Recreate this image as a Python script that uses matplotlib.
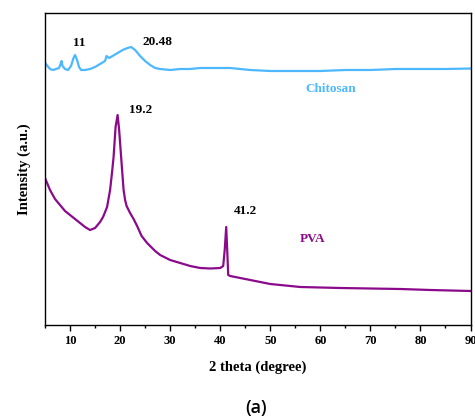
import numpy as np
import matplotlib
matplotlib.use('Agg')
import matplotlib.pyplot as plt
from matplotlib.ticker import MultipleLocator

# XRD patterns (intensity in arbitrary units)
chitosan_2theta = [5.0, 5.5, 6.0, 6.6, 7.2, 7.8, 8.1, 8.3, 8.5, 9.0, 9.6, 10.2, 10.7, 11.0, 11.4,
                   11.8, 12.2, 13.0, 14.0, 15.0, 16.0, 17.0, 17.3, 17.8, 18.5, 19.5, 20.5, 21.5,
                   22.2, 23.0, 24.0, 25.0, 26.0, 27.0, 28.0, 30.0, 32.0, 34.0, 36.0, 38.0, 40.0,
                   42.0, 44.0, 46.0, 50.0, 55.0, 60.0, 65.0, 70.0, 75.0, 80.0, 85.0, 90.0]
chitosan_int = [262, 259, 256, 255, 256, 257, 261, 264, 259, 256, 255, 259, 267, 270, 265,
                258, 255, 255, 256, 258, 261, 264, 269, 267, 269, 272, 275, 277,
                278, 275, 269, 264, 260, 257, 256, 255, 256, 256, 257, 257, 257,
                257, 256, 255, 254, 254, 254, 255, 255, 256, 256, 256, 256.5]

pva_2theta = [5.0, 6.0, 7.0, 8.0, 9.0, 10.0, 11.0, 12.0, 13.0, 14.0, 15.0, 16.0, 16.6, 17.4,
              18.0, 18.4, 18.7, 19.1, 19.5, 19.8, 20.0, 20.4, 20.7, 21.0, 21.3, 22.0, 22.7,
              23.4, 24.3, 25.4, 27.0, 28.0, 30.0, 32.0, 34.0, 36.0, 38.0, 40.0, 40.6, 40.9,
              41.2, 41.4, 41.6, 42.0, 44.0, 46.0, 48.0, 50.0, 52.0, 56.0, 60.0, 64.0, 70.0,
              76.0, 82.0, 90.0]
pva_int = [147, 135, 126, 120, 114, 110, 106, 102, 98, 95, 97, 103, 108, 118,
           135, 153, 168, 198, 210, 196, 182, 155, 135, 125, 119, 112, 106,
           99, 89, 82, 74, 70, 65, 62, 59, 57, 56.5, 57, 59, 75,
           98, 75, 50, 49, 47, 45, 43, 41, 40, 38, 37.5, 37, 36.5,
           36, 35, 34]

peak_labels = ['11', '20.48', '19.2', '41.2']
peak_x = [11.8, 27.4, 24.2, 45.1]
peak_y = [282, 283, 215, 114]

chitosan_color = '#4db8ff'
pva_color = '#8b0a8b'

plt.rcParams['font.family'] = ['Liberation Serif', 'DejaVu Serif']
plt.rcParams['font.weight'] = 'bold'

fig = plt.figure(figsize=(4.75, 4.2), dpi=100)
ax = fig.add_axes([45 / 475, 95 / 420, 425.5 / 475, 312.5 / 420])

ax.plot(chitosan_2theta, chitosan_int, color=chitosan_color, lw=1.6)
ax.plot(pva_2theta, pva_int, color=pva_color, lw=1.6)

for lab, px, py in zip(peak_labels, peak_x, peak_y):
    ax.text(px, py, lab, ha='center', va='center', fontsize=9.5, fontweight='bold')

ax.text(62.1, 236, 'Chitosan', color=chitosan_color, ha='center', va='center',
        fontsize=9.5, fontweight='bold')
ax.text(58.5, 86, 'PVA', color=pva_color, ha='center', va='center',
        fontsize=9.5, fontweight='bold')

ax.set_xlim(5, 90)
ax.set_ylim(0, 312.5)
ax.xaxis.set_major_locator(MultipleLocator(10))
ax.xaxis.set_minor_locator(MultipleLocator(5))
ax.set_yticks([])
ax.tick_params(axis='x', which='major', direction='out', length=4, width=1, labelsize=9, pad=3)
ax.tick_params(axis='x', which='minor', direction='out', length=2.5, width=1)
for lbl in ax.get_xticklabels():
    lbl.set_fontweight('bold')
for s in ax.spines.values():
    s.set_linewidth(1.0)

ax.set_xlabel('2 theta (degree)', fontsize=10.5, fontweight='bold', labelpad=10)
ax.set_ylabel('Intensity (a.u.)', fontsize=10.5, fontweight='bold', labelpad=10)

fig.text(256 / 475, 1 - 408 / 420, '(a)', ha='center', va='center', fontsize=13,
         fontfamily='Open Sans', fontweight='semibold')

fig.savefig('out.png', dpi=100)
